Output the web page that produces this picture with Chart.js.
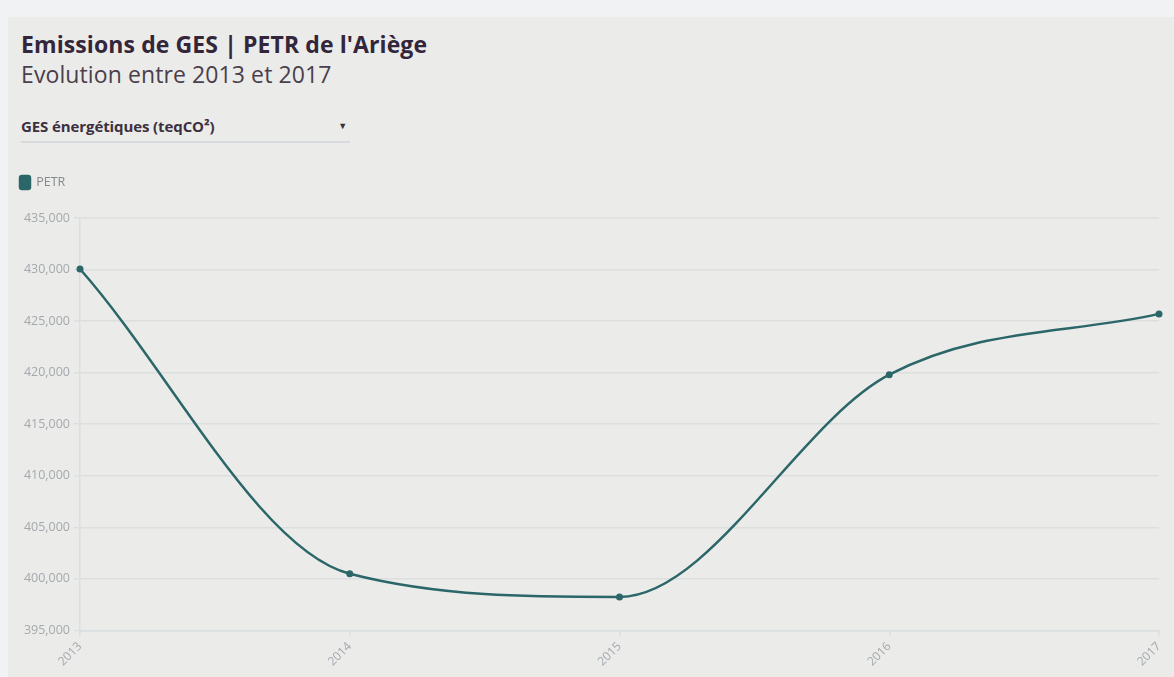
<!DOCTYPE html>
<html lang="fr">
<head>
<meta charset="utf-8">
<title>Emissions de GES | PETR de l'Ariège</title>
<script src="https://cdn.jsdelivr.net/npm/chart.js@4.4.1/dist/chart.umd.min.js"></script>
<style>
    html, body { margin: 0; padding: 0; width: 1174px; height: 677px; overflow: hidden; background: #f1f2f4; font-family: "Open Sans", Lato, sans-serif; }
    .carte { position: absolute; left: 8px; top: 17px; right: 0; bottom: 0; background: #ebebea; }
    .titre { position: absolute; left: 13px; top: 11px; font-size: 23px; font-weight: 700; color: #33263a; white-space: nowrap; letter-spacing: 0.1px; }
    .sous-titre { position: absolute; left: 13px; top: 41px; font-size: 23px; color: #4a3f4b; white-space: nowrap; letter-spacing: 0.1px; }
    .select { position: absolute; left: 13px; top: 99px; width: 329px; height: 25px; border-bottom: 2.5px solid #d7dadd; font-size: 15px; font-weight: 700; color: #3c3040; white-space: nowrap; letter-spacing: -0.1px; }
    .select .fleche { position: absolute; right: 3px; top: 3px; font-size: 9px; color: #333; }
    .zone { position: absolute; left: 0; top: 149px; width: 1166px; height: 506px; }
</style>
</head>
<body>
<div class="carte">
    <div class="titre">Emissions de GES | PETR de l'Ariège</div>
    <div class="sous-titre">Evolution entre 2013 et 2017</div>
    <div class="select">GES énergétiques (teqCO²)<span class="fleche">▼</span></div>
    <div class="zone"><canvas id="graphique"></canvas></div>
</div>
<script>
// --- DONNEES ---
const annees = ['2013', '2014', '2015', '2016', '2017'];
const valeursPetr = [430050, 400500, 398250, 419800, 425700];
const ticksY = [395000, 400000, 405000, 410000, 415000, 420000, 425000, 430000, 435000];

const couleurLigne = '#2b6668';
const couleurGrille = '#dcdfe0';
const couleurTexte = '#a4a9ad';

function formatNombre(v) {
    return Number(v).toLocaleString('en-US');
}

// un peu d'espace sous la légende
const espaceLegende = {
    id: 'espaceLegende',
    beforeInit(chart) {
        const fitOrig = chart.legend.fit;
        chart.legend.fit = function () {
            fitOrig.bind(chart.legend)();
            this.height += 19;
        };
    }
};

const ctx = document.getElementById('graphique').getContext('2d');
new Chart(ctx, {
    type: 'line',
    data: {
        labels: annees,
        datasets: [{
            label: 'PETR',
            data: valeursPetr,
            borderColor: couleurLigne,
            backgroundColor: couleurLigne,
            borderWidth: 2.5,
            cubicInterpolationMode: 'monotone',
            pointRadius: 3.5,
            pointBackgroundColor: couleurLigne,
            pointBorderWidth: 0
        }]
    },
    options: {
        responsive: true,
        maintainAspectRatio: false,
        animation: false,
        layout: { padding: { left: 2, right: 15, top: 0, bottom: 0 } },
        plugins: {
            legend: {
                position: 'top',
                align: 'start',
                labels: {
                    boxWidth: 10,
                    boxHeight: 13,
                    useBorderRadius: true,
                    borderRadius: 2,
                    color: '#85888c',
                    font: { family: 'Open Sans', size: 12.5 },
                    padding: 10
                }
            },
            tooltip: { enabled: false }
        },
        scales: {
            x: {
                offset: false,
                grid: { drawOnChartArea: false, color: couleurGrille, lineWidth: 1.5, tickLength: 6 },
                border: { color: couleurGrille, width: 1.5 },
                ticks: {
                    color: couleurTexte,
                    font: { family: 'Open Sans', size: 12 },
                    maxRotation: 45,
                    minRotation: 45,
                    padding: 3
                }
            },
            y: {
                min: 395000,
                max: 435000,
                afterBuildTicks: (axis) => { axis.ticks = ticksY.map(v => ({ value: v })); },
                afterFit: (axis) => { axis.width = 70; },
                grid: { color: couleurGrille, lineWidth: 1.5, tickLength: 6 },
                border: { color: couleurGrille, width: 1.5 },
                ticks: {
                    color: couleurTexte,
                    font: { family: 'Open Sans', size: 12.5 },
                    padding: 4,
                    callback: (v) => formatNombre(v)
                }
            }
        }
    },
    plugins: [espaceLegende]
});
</script>
</body>
</html>
